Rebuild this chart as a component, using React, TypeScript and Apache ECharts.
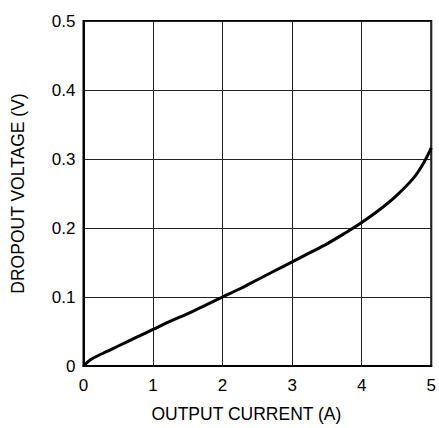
import React, { useEffect, useRef } from "react";
import * as echarts from "echarts";

const currentA = [0, 0.1, 0.25, 0.5, 0.75, 1, 1.25, 1.5, 1.75, 2, 2.25, 2.5, 2.75, 3, 3.25, 3.5, 3.75, 4, 4.25, 4.5, 4.75, 4.9, 5];
const dropoutV = [0, 0.009, 0.017, 0.029, 0.041, 0.053, 0.065, 0.076, 0.088, 0.1, 0.112, 0.125, 0.138, 0.151, 0.164, 0.177, 0.192, 0.208, 0.226, 0.247, 0.273, 0.296, 0.316];

const xTitle = "OUTPUT CURRENT (A)";
const yTitle = "DROPOUT VOLTAGE (V)";
const FONT = "'Liberation Sans', Arial, sans-serif";

export default function App() {
  const ref = useRef<HTMLDivElement>(null);
  useEffect(() => {
    if (!ref.current) return;
    const chart = echarts.init(ref.current, undefined, { renderer: "svg" });
    chart.setOption({
      animation: false,
      backgroundColor: "#ffffff",
      textStyle: { fontFamily: FONT },
      grid: {
        left: 83.5,
        right: 4,
        top: 21,
        bottom: 56,
        show: true,
        borderColor: "#000",
        borderWidth: 2,
        backgroundColor: "transparent",
      },
      xAxis: {
        type: "value",
        min: 0,
        max: 5,
        interval: 1,
        name: xTitle,
        nameLocation: "middle",
        nameGap: 39,
        nameTextStyle: { color: "#000", fontSize: 17.5, fontFamily: FONT, padding: [0, 22, 0, 0] },
        axisLine: { show: true, lineStyle: { color: "#000", width: 2 } },
        axisTick: { show: false },
        axisLabel: { color: "#000", fontSize: 17, margin: 11, fontFamily: FONT },
        splitLine: { show: true, lineStyle: { color: "#222", width: 1 } },
      },
      yAxis: {
        type: "value",
        min: 0,
        max: 0.5,
        interval: 0.1,
        name: yTitle,
        nameLocation: "middle",
        nameRotate: 90,
        nameGap: 57,
        nameTextStyle: { color: "#000", fontSize: 17.5, fontFamily: FONT },
        axisLine: { show: true, lineStyle: { color: "#000", width: 2 } },
        axisTick: { show: false },
        axisLabel: {
          color: "#000",
          fontSize: 17,
          margin: 8,
          fontFamily: FONT,
          formatter: (v: number) => (v === 0 ? "0" : v.toFixed(1)),
        },
        splitLine: { show: true, lineStyle: { color: "#222", width: 1 } },
      },
      series: [
        {
          type: "line",
          data: currentA.map((x, i) => [x, dropoutV[i]]),
          smooth: 0.35,
          showSymbol: false,
          lineStyle: { color: "#000", width: 3 },
        },
      ],
    });
    return () => chart.dispose();
  }, []);
  return <div ref={ref} style={{ width: 439, height: 428, position: "absolute", left: 0, top: 0 }} />;
}
